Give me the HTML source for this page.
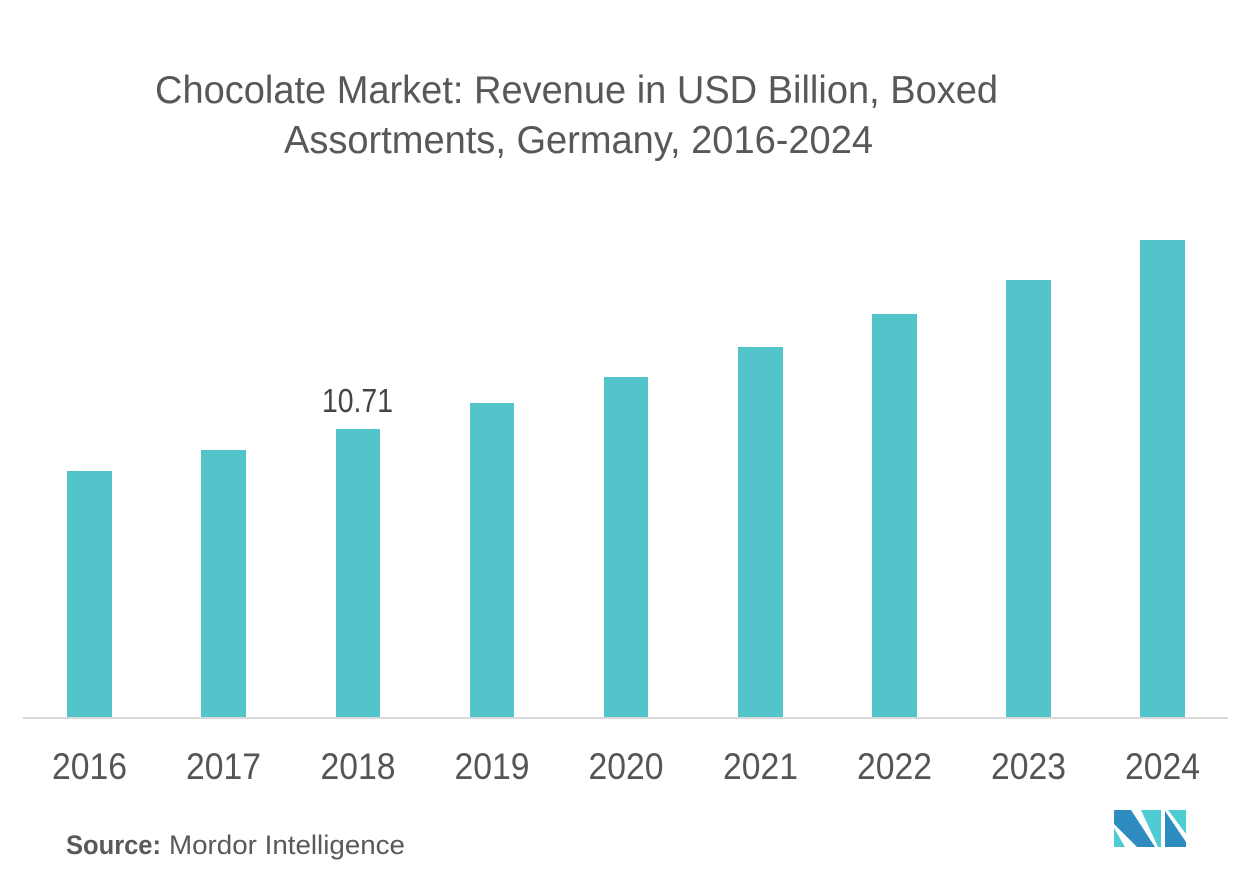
<!DOCTYPE html>
<html>
<head>
<meta charset="utf-8">
<style>
html,body{margin:0;padding:0;background:#fff;}
svg{display:block;}
text{font-family:"Liberation Sans",sans-serif;}
</style>
</head>
<body>
<svg width="1252" height="880" viewBox="0 0 1252 880" xmlns="http://www.w3.org/2000/svg">
<rect width="1252" height="880" fill="#fff"/>
<text x="155" y="103" font-size="39" fill="#585858" textLength="843" lengthAdjust="spacingAndGlyphs">Chocolate Market: Revenue in USD Billion, Boxed</text>
<text x="284" y="153" font-size="39" fill="#585858" textLength="589" lengthAdjust="spacingAndGlyphs">Assortments, Germany, 2016-2024</text>
<g fill="#52C4CA">
<rect x="67" y="471" width="45" height="247"/>
<rect x="201" y="450" width="45" height="268"/>
<rect x="336" y="429" width="44" height="289"/>
<rect x="470" y="403" width="44" height="315"/>
<rect x="604" y="377" width="44" height="341"/>
<rect x="738" y="347" width="45" height="371"/>
<rect x="872" y="314" width="45" height="404"/>
<rect x="1006" y="280" width="45" height="438"/>
<rect x="1140" y="240" width="45" height="478"/>
</g>
<rect x="23" y="717" width="1205" height="2" fill="#d9d9d9"/>
<text x="322" y="412" font-size="33" fill="#444" textLength="71" lengthAdjust="spacingAndGlyphs">10.71</text>
<g font-size="37" fill="#555" text-anchor="middle">
<text x="89.5" y="779" textLength="75" lengthAdjust="spacingAndGlyphs">2016</text>
<text x="223.5" y="779" textLength="75" lengthAdjust="spacingAndGlyphs">2017</text>
<text x="358" y="779" textLength="75" lengthAdjust="spacingAndGlyphs">2018</text>
<text x="492" y="779" textLength="75" lengthAdjust="spacingAndGlyphs">2019</text>
<text x="626" y="779" textLength="75" lengthAdjust="spacingAndGlyphs">2020</text>
<text x="760.5" y="779" textLength="75" lengthAdjust="spacingAndGlyphs">2021</text>
<text x="894.5" y="779" textLength="75" lengthAdjust="spacingAndGlyphs">2022</text>
<text x="1028.5" y="779" textLength="75" lengthAdjust="spacingAndGlyphs">2023</text>
<text x="1162.5" y="779" textLength="75" lengthAdjust="spacingAndGlyphs">2024</text>
</g>
<text x="66" y="854" font-size="27" font-weight="bold" fill="#595959" textLength="95" lengthAdjust="spacingAndGlyphs">Source:</text>
<text x="169" y="854" font-size="27" fill="#595959" textLength="236" lengthAdjust="spacingAndGlyphs">Mordor Intelligence</text>
<g>
<polygon points="1114,810 1131,810 1155,847 1137,847 1114,824" fill="#2E8CC0"/>
<polygon points="1114,828 1114,847 1125,847" fill="#4DCDD2"/>
<polygon points="1141,810 1161,810 1161,847 1158,847" fill="#4DCDD2"/>
<polygon points="1165,811 1186,842 1186,847 1165,847" fill="#2E8CC0"/>
<polygon points="1168,810 1186,810 1186,834" fill="#4DCDD2"/>
</g>
</svg>
</body>
</html>
